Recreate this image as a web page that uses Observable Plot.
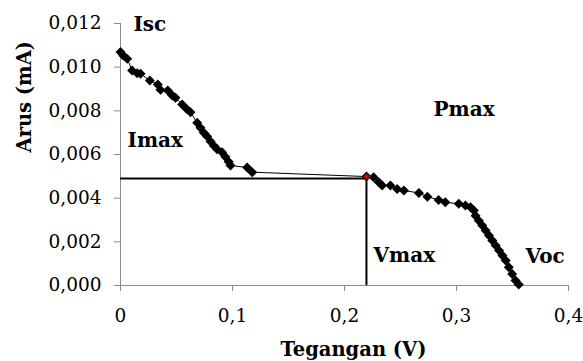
<!DOCTYPE html>
<html>
<head>
<meta charset="utf-8">
<script src="https://cdn.jsdelivr.net/npm/d3@7"></script>
<script src="https://cdn.jsdelivr.net/npm/@observablehq/plot@0.6"></script>
<style>
  html, body { margin: 0; padding: 0; background: white; }
</style>
</head>
<body>
<div id="chart"></div>
<script>
// Measured I-V curve: voltage (V) and current (mA-axis units)
const voltage = [
  0.000, 0.0024, 0.0060, 0.0104, 0.0149, 0.0179, 0.0262, 0.0333, 0.0357, 0.0422,
  0.0462, 0.0491, 0.0551, 0.0589, 0.0625, 0.0685, 0.0714, 0.0744, 0.0774, 0.0804,
  0.0833, 0.0863, 0.0907, 0.0936, 0.0966, 0.0982, 0.1131, 0.1176,
  0.2196,
  0.2260, 0.2306, 0.2336, 0.2410, 0.2470, 0.2530, 0.2664, 0.2740, 0.2840, 0.2900,
  0.3020, 0.3080, 0.3125, 0.3155, 0.3170, 0.3200, 0.3230, 0.3260, 0.3290, 0.3320,
  0.3350, 0.3380, 0.3410, 0.3440, 0.3467, 0.3497, 0.3527, 0.3556
];
const current = [
  0.01069, 0.01053, 0.01038, 0.00985, 0.00972, 0.00970, 0.00939, 0.00921, 0.00896, 0.00893,
  0.00870, 0.00860, 0.00829, 0.00809, 0.00794, 0.00745, 0.00722, 0.00700, 0.00683, 0.00660,
  0.00640, 0.00624, 0.00610, 0.00590, 0.00567, 0.00550, 0.00540, 0.00519,
  0.00499,
  0.00496, 0.00473, 0.00458, 0.00458, 0.00442, 0.00435, 0.00424, 0.00407, 0.00392, 0.00381,
  0.00374, 0.00366, 0.00358, 0.00343, 0.00320, 0.00297, 0.00275, 0.00252, 0.00229, 0.00206,
  0.00183, 0.00160, 0.00137, 0.00114, 0.00084, 0.00053, 0.00023, 0.00005
];

// Maximum power point
const vMax = 0.2196;
const iMaxLine = 0.00490;
const pMaxPoint = [{v: 0.2196, i: 0.00499}];

// Annotation labels
const labelText = ["Isc", "Imax", "Pmax", "Vmax", "Voc"];
const labelV = [0.0116, 0.0063, 0.2795, 0.2259, 0.3616];
const labelI = [0.01195, 0.00664, 0.00806, 0.00135, 0.00133];

// Ticks
const xTicks = [0, 0.1, 0.2, 0.3, 0.4];
const yTicks = [0, 0.002, 0.004, 0.006, 0.008, 0.010, 0.012];

const data = voltage.map((v, k) => ({v, i: current[k]}));
const labels = labelText.map((t, k) => ({t, v: labelV[k], i: labelI[k]}));

const fmtX = d => d === 0 ? "0" : d3.format(".1f")(d).replace(".", ",");
const fmtY = d => d3.format(".3f")(d).replace(".", ",");
const axisGray = "#8c8c8c";
const serif = "DejaVu Serif";

const chart = Plot.plot({
  width: 583,
  height: 361,
  marginLeft: 120,
  marginRight: 15,
  marginTop: 23,
  marginBottom: 76,
  x: {domain: [0, 0.4]},
  y: {domain: [0, 0.012]},
  style: {fontFamily: serif, fontSize: "18.5px", background: "white", color: "black"},
  marks: [
    Plot.axisX({ticks: xTicks, tickFormat: fmtX, tickSize: 6, tickPadding: 17, stroke: axisGray, fill: "black", label: null, fontFamily: serif, fontSize: 18.5}),
    Plot.axisY({ticks: yTicks, tickFormat: fmtY, tickSize: 6, tickPadding: 13, stroke: axisGray, fill: "black", label: null, fontFamily: serif, fontSize: 18.5}),
    Plot.ruleX([0], {stroke: axisGray}),
    Plot.ruleY([0], {stroke: axisGray}),
    Plot.ruleY([iMaxLine], {x1: 0, x2: vMax, stroke: "black", strokeWidth: 2}),
    Plot.ruleX([vMax], {y1: 0, y2: iMaxLine, stroke: "black", strokeWidth: 2}),
    Plot.line(data, {x: "v", y: "i", stroke: "black", strokeWidth: 1}),
    Plot.dot(data, {x: "v", y: "i", symbol: "diamond2", r: 4.5, fill: "black", stroke: "none"}),
    Plot.dot(pMaxPoint, {x: "v", y: "i", symbol: "diamond2", r: 3, fill: "#d00000", stroke: "none"}),
    Plot.text(labels, {x: "v", y: "i", text: "t", textAnchor: "start", lineAnchor: "middle",
      fontSize: 20, fontWeight: "bold", fill: "black", fontFamily: serif}),
    Plot.text(["Tegangan (V)"], {x: 0.208, frameAnchor: "bottom", dy: 64, lineAnchor: "middle",
      fontSize: 19.5, fontWeight: "bold", fill: "black", fontFamily: serif}),
    Plot.text(["Arus (mA)"], {frameAnchor: "left", dx: -96, dy: -2, rotate: -90, lineAnchor: "middle",
      fontSize: 19.5, fontWeight: "bold", fill: "black", fontFamily: serif})
  ]
});
document.getElementById("chart").appendChild(chart);
</script>
</body>
</html>
